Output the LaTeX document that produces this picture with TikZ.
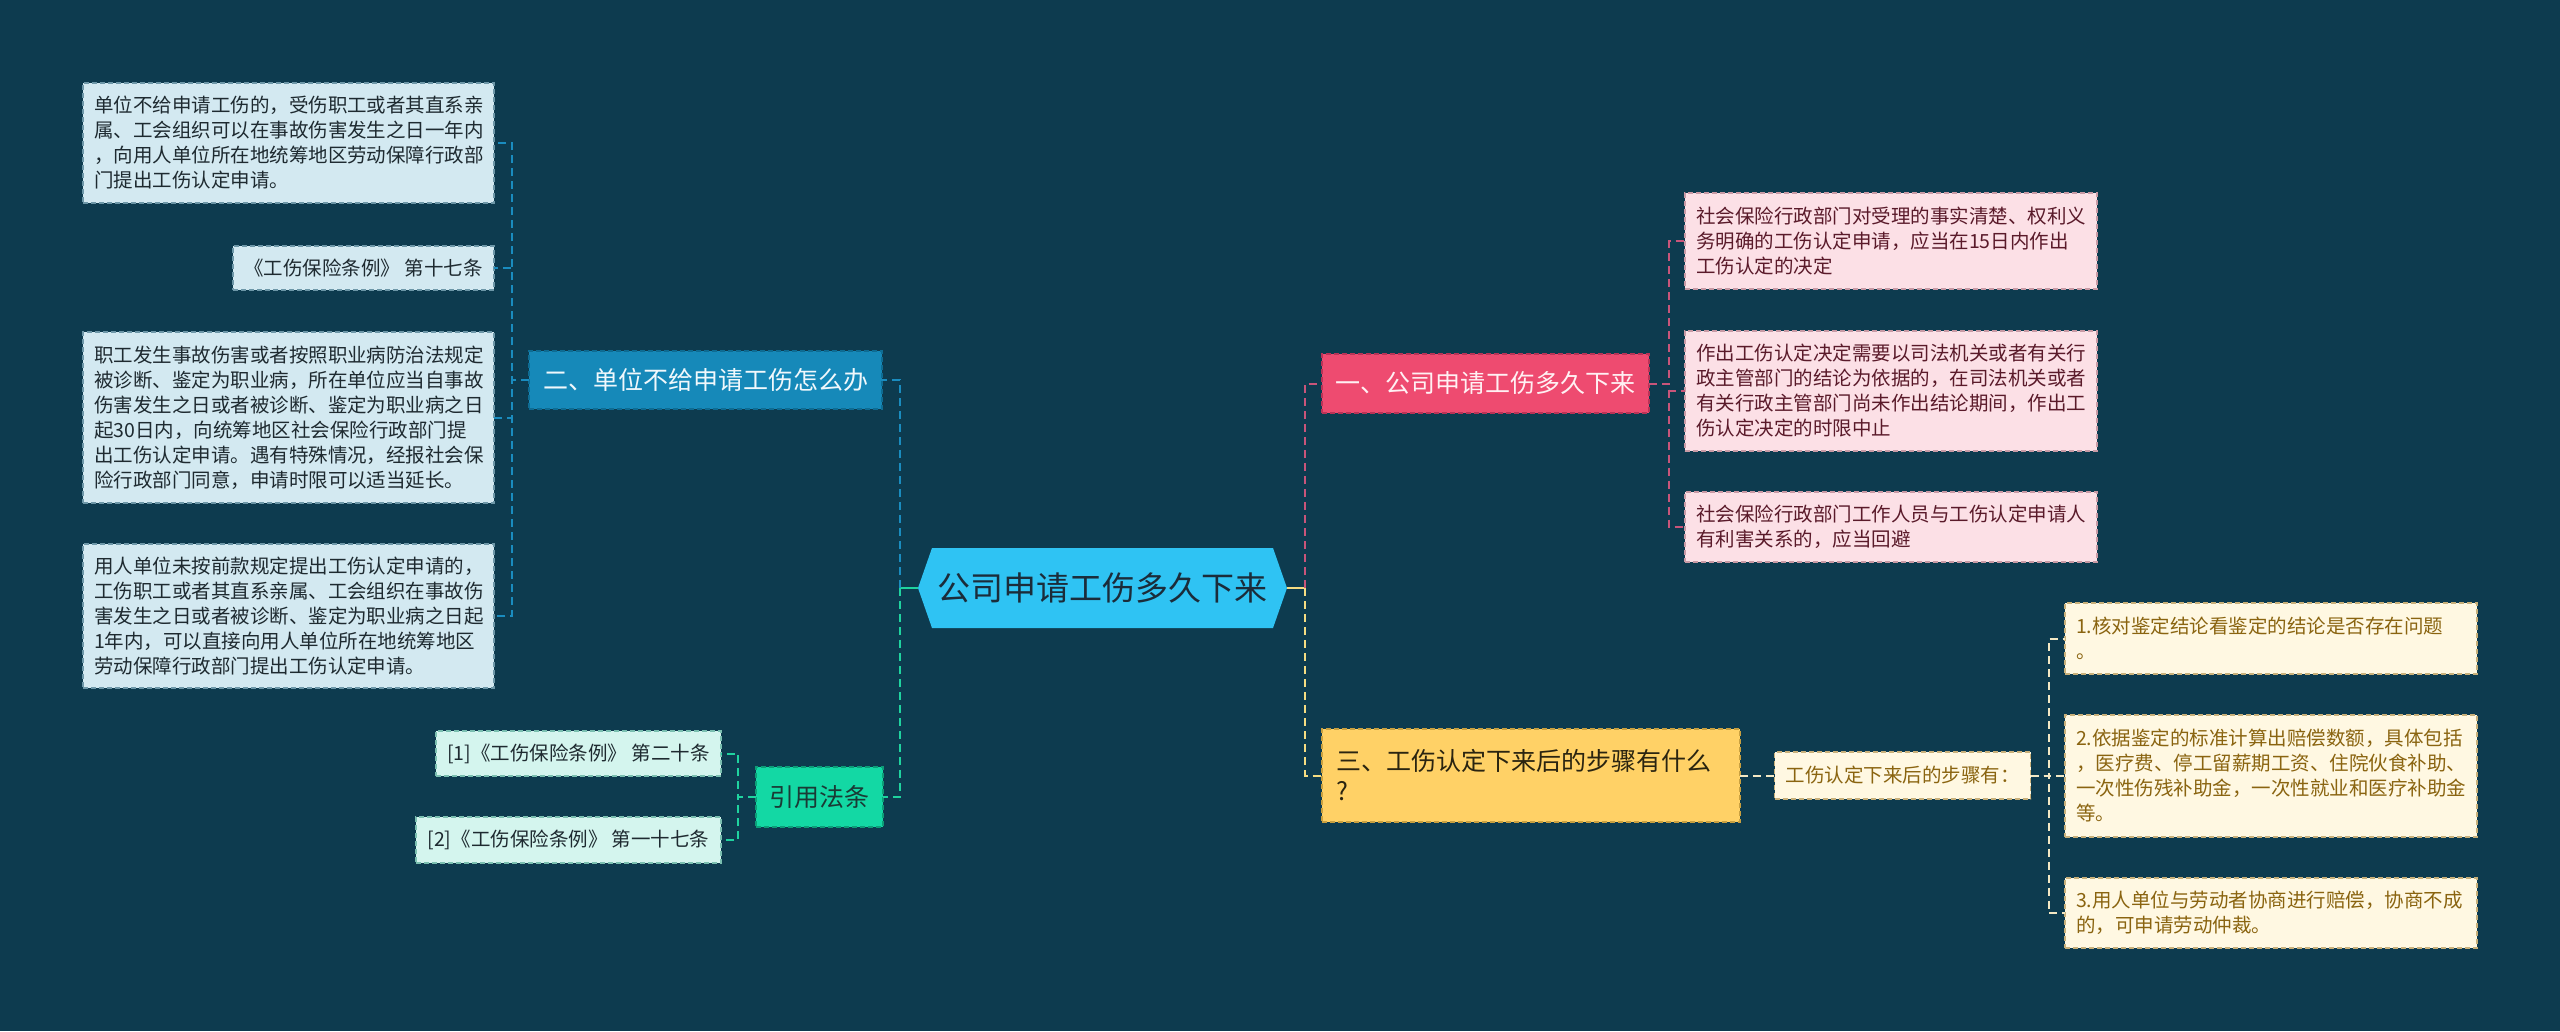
\documentclass[tikz,border=0pt]{standalone}
\usepackage{fontspec}
\setmainfont{Noto Sans CJK SC}
\definecolor{bg}{HTML}{0D3B4F}
\definecolor{hexfill}{HTML}{2FC3F3}
\definecolor{hextext}{HTML}{1B2C3A}
\definecolor{bluefill}{HTML}{1689B9}
\definecolor{blueborder}{HTML}{0E6C93}
\definecolor{bluetext}{HTML}{F0F8FC}
\definecolor{lbluefill}{HTML}{D3E9F1}
\definecolor{lblueborder}{HTML}{6D97A8}
\definecolor{darktext}{HTML}{1E2A30}
\definecolor{greenfill}{HTML}{13D8A4}
\definecolor{greenborder}{HTML}{0C9E78}
\definecolor{greentext}{HTML}{1A3A35}
\definecolor{lgreenfill}{HTML}{D4F5EE}
\definecolor{lgreenborder}{HTML}{7ABFB0}
\definecolor{pinkfill}{HTML}{EE4B70}
\definecolor{pinkborder}{HTML}{B93357}
\definecolor{pinktext}{HTML}{FFF0F3}
\definecolor{lpinkfill}{HTML}{FCE0E6}
\definecolor{lpinkborder}{HTML}{C89AA5}
\definecolor{lpinktext}{HTML}{5A1A2A}
\definecolor{yelfill}{HTML}{FFD166}
\definecolor{yelborder}{HTML}{C9A040}
\definecolor{yeltext}{HTML}{2A2410}
\definecolor{creamfill}{HTML}{FFF8E2}
\definecolor{creamborder}{HTML}{C8B07A}
\definecolor{creamtext}{HTML}{8A6410}
\definecolor{cblue}{HTML}{1A8CBF}
\definecolor{cgreen}{HTML}{1FD39F}
\definecolor{cpink}{HTML}{C8557A}
\definecolor{cyellow}{HTML}{F5DC82}
\definecolor{ccream}{HTML}{F3E8C4}
\begin{document}
\begin{tikzpicture}[x=1pt,y=-1pt,
  every node/.style={inner sep=0pt, outer sep=0pt},
  box/.style={rectangle, align=left, dash pattern=on 5pt off 3pt, line width=1.3pt, inner xsep=11pt, inner ysep=0pt},
  leaffont/.style={font=\fontsize{19.5}{25}\selectfont},
  mainfont/.style={font=\fontsize{25}{30}\selectfont},
  lblue/.style={box, leaffont, fill=lbluefill, draw=lblueborder, text=darktext},
  lgreen/.style={box, leaffont, fill=lgreenfill, draw=lgreenborder, text=darktext},
  lpink/.style={box, leaffont, fill=lpinkfill, draw=lpinkborder, text=lpinktext},
  lcream/.style={box, leaffont, fill=creamfill, draw=creamborder, text=creamtext},
  conn/.style={line width=2pt, dash pattern=on 8pt off 5pt},
  stub/.style={line width=2.5pt}
]
\useasboundingbox (0,0) rectangle (2560,1031);
\fill[bg] (0,0) rectangle (2560,1031);

% central hexagon
\fill[hexfill] (932,548) -- (1273,548) -- (1287,588) -- (1273,628) -- (932,628) -- (918,588) -- cycle;
\node[minimum width=369, minimum height=80, text=hextext, font=\fontsize{33}{38}\selectfont] (C) at (1102.5,588) {公司申请工伤多久下来};
\coordinate (jl) at (900,588);
\coordinate (jr) at (1305,588);

% left branch: 二
\node[box, mainfont, align=center, minimum width=353, minimum height=58, fill=bluefill, draw=blueborder, text=bluetext] (B2) at (705.5,380) {二、单位不给申请工伤怎么办};
\node[lblue, text width=389, minimum height=120] (L1) at (288.5,143) {单位不给申请工伤的，受伤职工或者其直系亲\\属、工会组织可以在事故伤害发生之日一年内\\，向用人单位所在地统筹地区劳动保障行政部\\门提出工伤认定申请。};
\node[lblue, align=center, minimum width=261, minimum height=44] (L2) at (363.5,268) {《工伤保险条例》 第十七条};
\node[lblue, text width=389, minimum height=171] (L3) at (288.5,417.5) {职工发生事故伤害或者按照职业病防治法规定\\被诊断、鉴定为职业病，所在单位应当自事故\\伤害发生之日或者被诊断、鉴定为职业病之日\\起30日内，向统筹地区社会保险行政部门提\\出工伤认定申请。遇有特殊情况，经报社会保\\险行政部门同意，申请时限可以适当延长。};
\node[lblue, text width=389, minimum height=144] (L4) at (288.5,616) {用人单位未按前款规定提出工伤认定申请的，\\工伤职工或者其直系亲属、工会组织在事故伤\\害发生之日或者被诊断、鉴定为职业病之日起\\1年内，可以直接向用人单位所在地统筹地区\\劳动保障行政部门提出工伤认定申请。};

% left branch: 引用法条
\node[box, mainfont, align=center, minimum width=127, minimum height=60, fill=greenfill, draw=greenborder, text=greentext] (Q) at (819.5,797) {引用法条};
\node[lgreen, align=center, minimum width=285, minimum height=45] (R1) at (578.5,753.5) {[1]《工伤保险条例》 第二十条};
\node[lgreen, align=center, minimum width=305, minimum height=46] (R2) at (568.5,840) {[2]《工伤保险条例》 第一十七条};

% right branch: 一
\node[box, mainfont, align=center, minimum width=327, minimum height=59, fill=pinkfill, draw=pinkborder, text=pinktext] (B1) at (1485.5,383.5) {一、公司申请工伤多久下来};
\node[lpink, text width=390, minimum height=96] (P1) at (1891,241) {社会保险行政部门对受理的事实清楚、权利义\\务明确的工伤认定申请，应当在15日内作出\\工伤认定的决定};
\node[lpink, text width=390, minimum height=120] (P2) at (1891,391) {作出工伤认定决定需要以司法机关或者有关行\\政主管部门的结论为依据的，在司法机关或者\\有关行政主管部门尚未作出结论期间，作出工\\伤认定决定的时限中止};
\node[lpink, text width=390, minimum height=70] (P3) at (1891,527) {社会保险行政部门工作人员与工伤认定申请人\\有利害关系的，应当回避};

% right branch: 三
\node[box, mainfont, inner xsep=14pt, text width=390, minimum height=93, fill=yelfill, draw=yelborder, text=yeltext] (B3) at (1531,775.5) {三、工伤认定下来后的步骤有什么\\?};
\node[lcream, align=center, minimum width=255, minimum height=47] (S) at (1902.5,775.5) {工伤认定下来后的步骤有：};
\node[lcream, text width=390, minimum height=71] (Y1) at (2271,638.5) {1.核对鉴定结论看鉴定的结论是否存在问题\\。};
\node[lcream, text width=390, minimum height=122] (Y2) at (2271,776) {2.依据鉴定的标准计算出赔偿数额，具体包括\\，医疗费、停工留薪期工资、住院伙食补助、\\一次性伤残补助金，一次性就业和医疗补助金\\等。};
\node[lcream, text width=390, minimum height=70] (Y3) at (2271,913) {3.用人单位与劳动者协商进行赔偿，协商不成\\的，可申请劳动仲裁。};

% connectors
\draw[stub, cgreen] (C.west) -- (jl);
\draw[stub, cyellow] (C.east) -- (jr);
\draw[conn, cblue] (jl) |- (B2.east);
\draw[conn, cgreen] (jl) |- (Q.east);
\draw[conn, cpink] (jr) |- (B1.west);
\draw[conn, cyellow] (jr) |- (B3.west);

\foreach \n in {L1,L2,L3,L4}
  \draw[conn, cblue] (B2.west) -- ++(-17,0) |- (\n.east);
\foreach \n in {R1,R2}
  \draw[conn, cgreen] (Q.west) -- ++(-18,0) |- (\n.east);
\foreach \n in {P1,P2,P3}
  \draw[conn, cpink] (B1.east) -- ++(20,0) |- (\n.west);
\draw[conn, ccream] (B3.east) -- (S.west);
\foreach \n in {Y1,Y2,Y3}
  \draw[conn, ccream] (S.east) -- ++(18,0) |- (\n.west);
\end{tikzpicture}
\end{document}
